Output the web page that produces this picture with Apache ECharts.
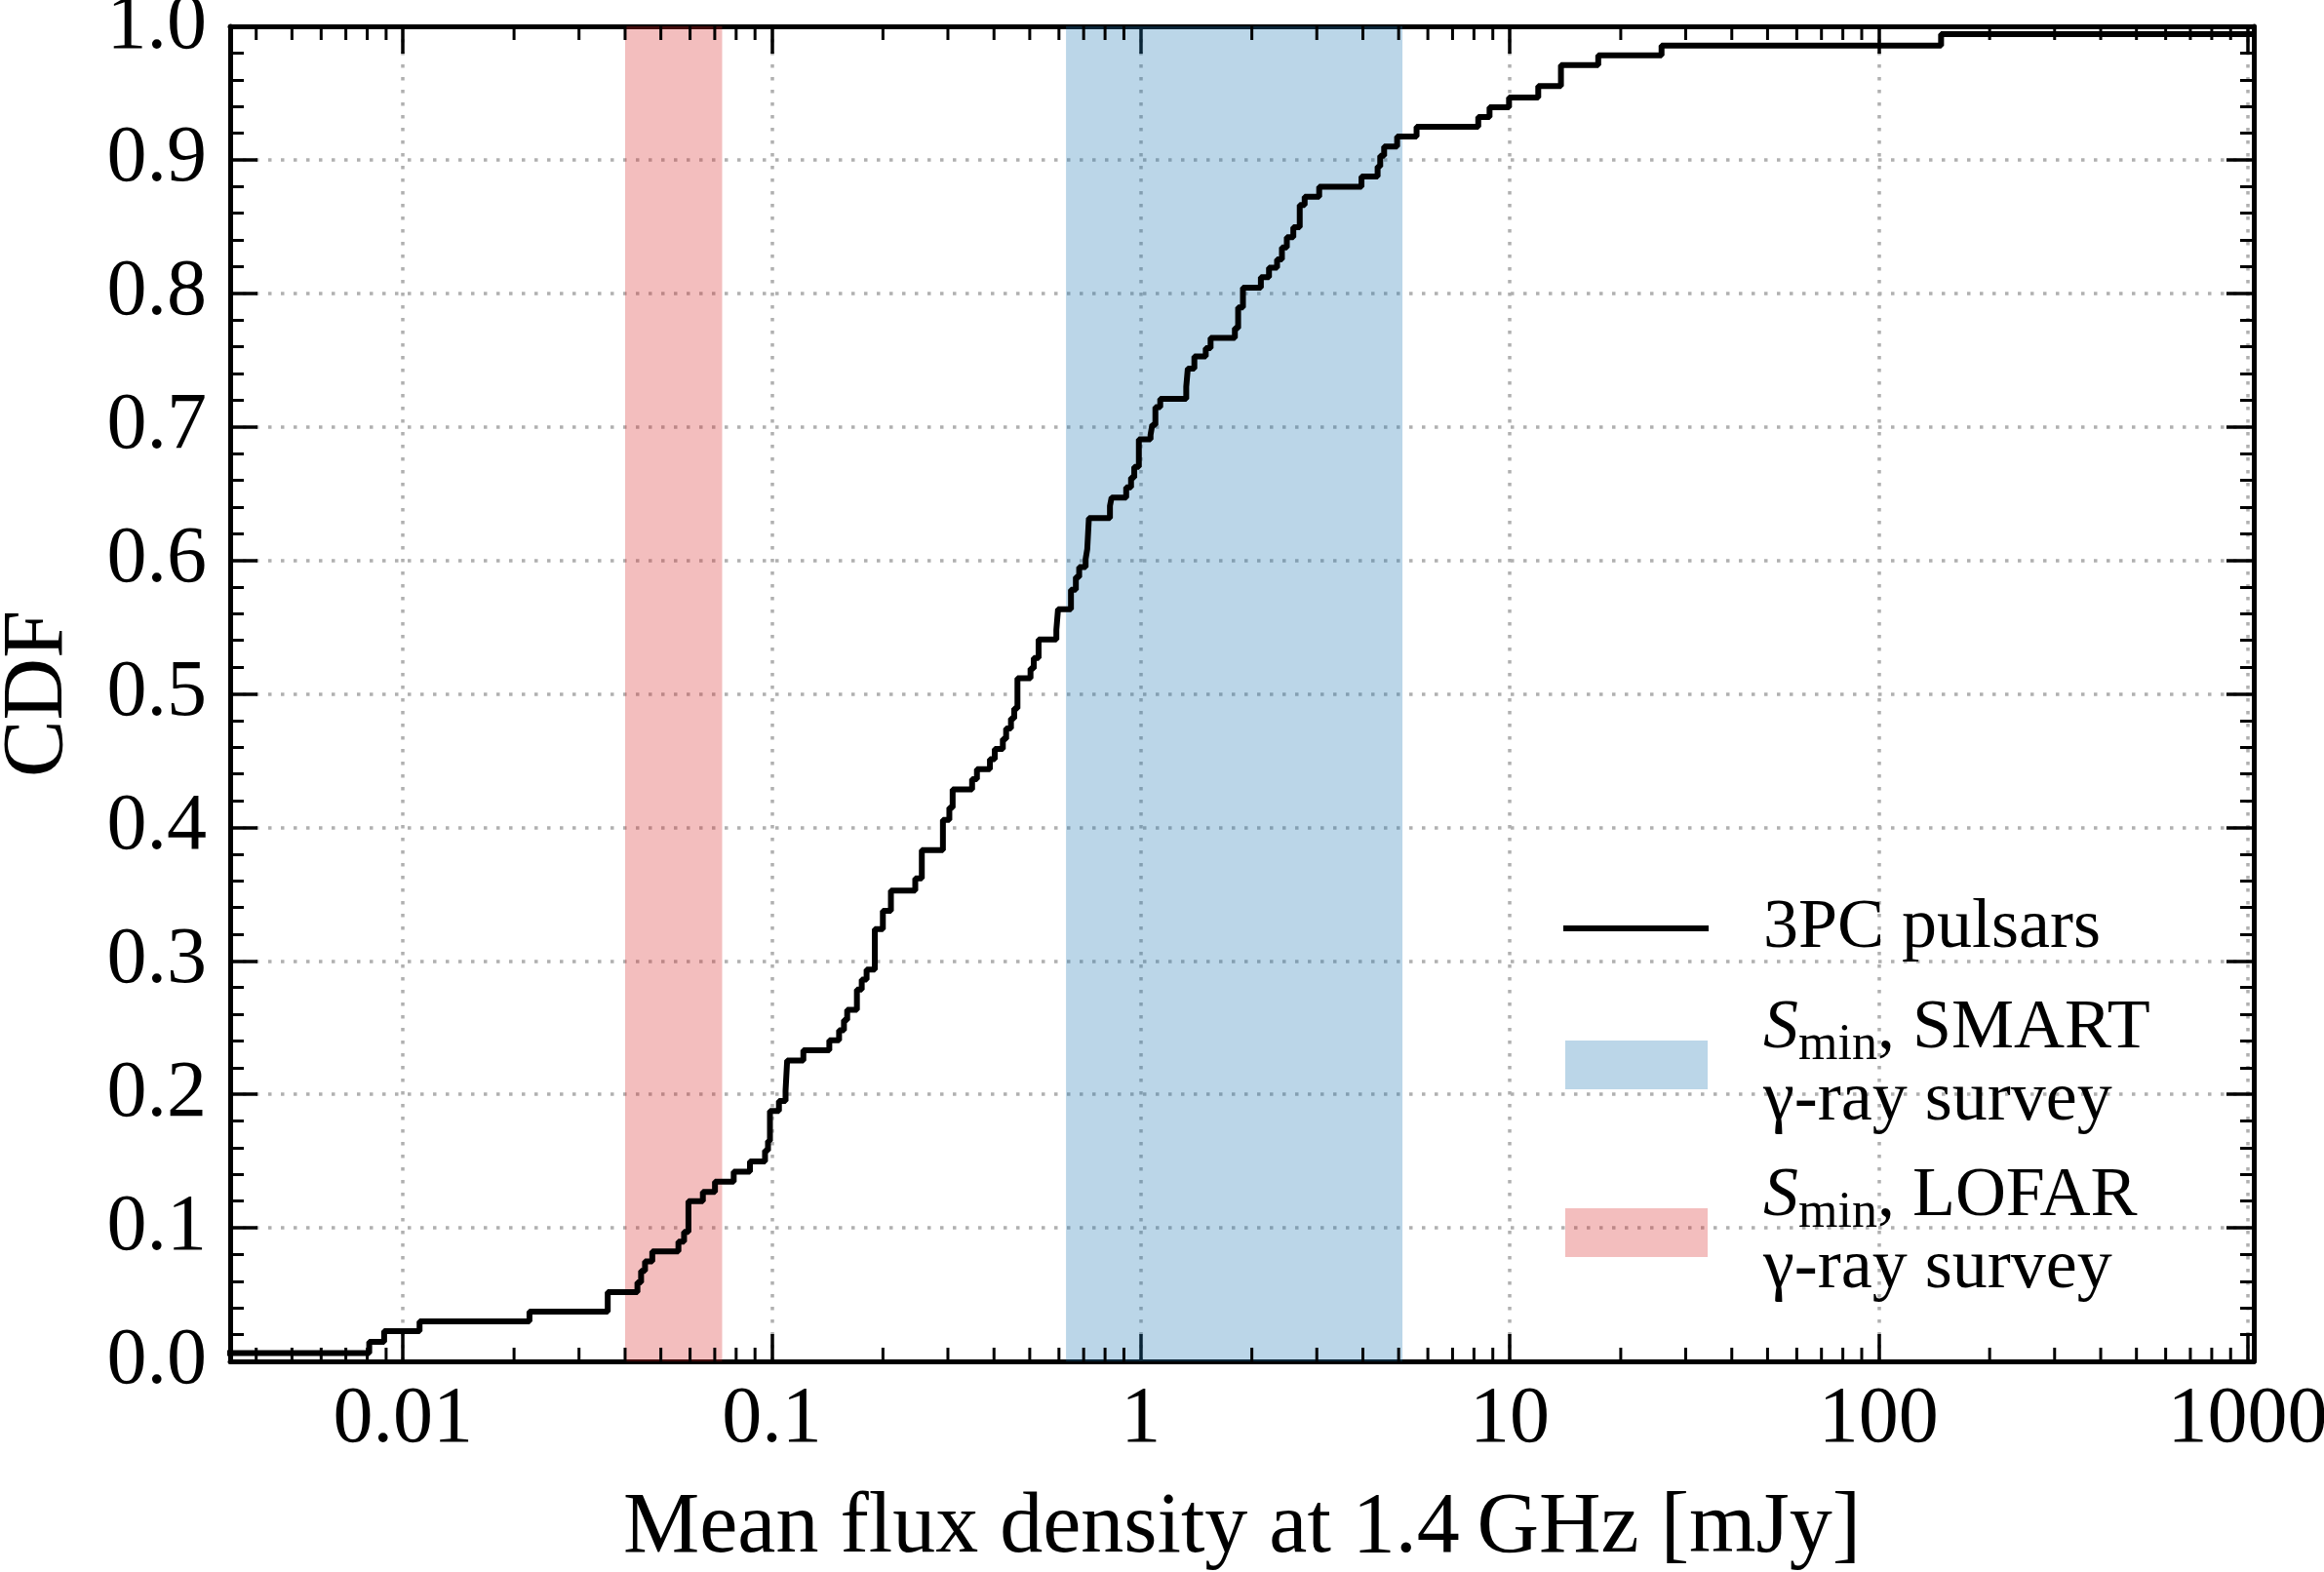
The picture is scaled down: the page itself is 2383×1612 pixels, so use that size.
<!DOCTYPE html>
<html>
<head>
<meta charset="utf-8">
<script src="https://cdn.jsdelivr.net/npm/echarts@6/dist/echarts.min.js"></script>
<style>
  html, body { margin: 0; padding: 0; background: #fff; }
  #chart { width: 2383px; height: 1612px; }
</style>
</head>
<body>
<div id="chart"></div>
<script>
// step corners of the empirical CDF: flux where the curve jumps, level after the jump
const fluxVals = [
  0.0030, 0.00810, 0.00889, 0.01109, 0.02202, 0.03589, 0.0432, 0.0442, 0.0453, 0.0474,
  0.0558, 0.0578, 0.0594, 0.0650, 0.0701, 0.0788, 0.0872, 0.0958, 0.0976, 0.0988,
  0.1045, 0.1089, 0.1100, 0.1217, 0.1431, 0.1521, 0.1568, 0.1600, 0.1700, 0.1752,
  0.1806, 0.1901, 0.1999, 0.2102, 0.2447, 0.2549, 0.2908, 0.3027, 0.3090, 0.3489,
  0.3596, 0.3900, 0.4019, 0.4227, 0.4315, 0.4447, 0.4539, 0.4631, 0.5024, 0.5127,
  0.5284, 0.5904, 0.5966, 0.6467, 0.6668, 0.6807, 0.7087, 0.7160, 0.7233, 0.8249,
  0.8333, 0.9129, 0.9410, 0.9600, 0.988, 1.0627, 1.074, 1.0954, 1.129, 1.328,
  1.341, 1.397, 1.500, 1.546, 1.799, 1.836, 1.892, 2.116, 2.226, 2.341,
  2.413, 2.488, 2.591, 2.697, 2.781, 3.045, 3.965, 4.385, 4.457, 4.567,
  4.953, 5.592, 8.219, 8.818, 9.958, 11.95, 13.77, 17.38, 25.8, 147.7,
  1100
];
const cdfVals = [
  0.0063, 0.0146, 0.0226, 0.0300, 0.0373, 0.0519, 0.0592, 0.0677, 0.0748, 0.0823,
  0.0896, 0.0969, 0.1200, 0.1270, 0.1346, 0.1421, 0.1497, 0.1580, 0.1650, 0.1876,
  0.1950, 0.2027, 0.2254, 0.2330, 0.2405, 0.2480, 0.2557, 0.2633, 0.2784, 0.2860,
  0.2935, 0.3238, 0.3375, 0.3526, 0.3617, 0.3829, 0.4056, 0.4147, 0.4284, 0.4360,
  0.4436, 0.4510, 0.4588, 0.4663, 0.4740, 0.4816, 0.4890, 0.5116, 0.5190, 0.5268,
  0.5407, 0.5480, 0.5634, 0.5780, 0.5875, 0.5950, 0.6010, 0.6085, 0.6316, 0.6408,
  0.6470, 0.6546, 0.6620, 0.6700, 0.6906, 0.6940, 0.7015, 0.7148, 0.7209, 0.7300,
  0.7436, 0.7527, 0.7590, 0.7666, 0.7739, 0.7895, 0.8042, 0.8120, 0.8193, 0.8254,
  0.8344, 0.8420, 0.8495, 0.8662, 0.8723, 0.8798, 0.8876, 0.8950, 0.9030, 0.9100,
  0.9175, 0.9247, 0.9320, 0.9393, 0.9467, 0.9552, 0.9710, 0.9783, 0.9856, 0.9942,
  1.0
];
// survey sensitivity ranges (mJy)
const smartBand = [0.627, 5.12];
const lofarBand = [0.040, 0.0733];

const xTickLabels = ["0.01", "0.1", "1", "10", "100", "1000"];
const yTickLabels = ["0.0", "0.1", "0.2", "0.3", "0.4", "0.5", "0.6", "0.7", "0.8", "0.9", "1.0"];

const xMin = 0.0034, xMax = 1040;

// log minor ticks 2..9 per decade
const minorTicks = [];
for (let e = -3; e <= 2; e++) {
  for (let k = 2; k <= 9; k++) {
    const v = k * Math.pow(10, e);
    if (v > xMin && v < xMax) minorTicks.push(v);
  }
}

const FONT = "Liberation Serif";
const gridLine = { show: true, lineStyle: { color: "#b0b0b0", width: 3.5, type: [3.5, 9.5] } };

const chart = echarts.init(document.getElementById("chart"));

const xBase = {
  type: "log",
  logBase: 10,
  min: xMin,
  max: xMax,
  axisLine: { show: true, onZero: false, lineStyle: { color: "#000", width: 5 } },
  axisTick: { show: true, inside: true, length: 28, lineStyle: { color: "#000", width: 3.5 } },
};
const yBase = {
  type: "value",
  min: 0,
  max: 1,
  interval: 0.1,
  axisLine: { show: true, onZero: false, lineStyle: { color: "#000", width: 5 } },
  axisTick: { show: true, inside: true, length: 28, lineStyle: { color: "#000", width: 3.5 } },
  minorTick: { show: true, splitNumber: 5, length: 14, lineStyle: { color: "#000", width: 3 } },
};

const legendText = {
  color: "#000", fontFamily: FONT, fontSize: 72, lineHeight: 74, padding: [0, 0, 0, 52],
  rich: {
    it: { fontStyle: "italic", fontFamily: FONT, fontSize: 72, color: "#000" },
    sub: { fontFamily: FONT, fontSize: 52, color: "#000", verticalAlign: "bottom", height: 40 },
  },
};

chart.setOption({
  animation: false,
  backgroundColor: "#fff",
  grid: { left: 236, right: 72, top: 27, bottom: 216, containLabel: false, outerBoundsMode: "none" },
  xAxis: [
    Object.assign({}, xBase, {
      position: "bottom",
      splitLine: gridLine,
      axisLabel: {
        color: "#000", fontFamily: FONT, fontSize: 82, margin: 19,
        formatter: function (v) {
          const l = Math.log10(v), e = Math.round(l);
          return Math.abs(l - e) < 1e-6 ? (xTickLabels[e + 2] || "") : "";
        },
      },
      name: "Mean flux density at 1.4\u2009GHz [mJy]",
      nameLocation: "middle",
      nameGap: 128,
      nameTextStyle: { color: "#000", fontFamily: FONT, fontSize: 88 },
    }),
    Object.assign({}, xBase, {
      position: "top",
      splitLine: { show: false },
      axisLabel: { show: false },
    }),
  ],
  yAxis: [
    Object.assign({}, yBase, {
      position: "left",
      splitLine: gridLine,
      axisLabel: {
        color: "#000", fontFamily: FONT, fontSize: 82, margin: 24,
        formatter: function (v) { return yTickLabels[Math.round(v * 10)]; },
      },
      name: "CDF",
      nameLocation: "middle",
      nameGap: 152,
      nameRotate: 90,
      nameTextStyle: { color: "#000", fontFamily: FONT, fontSize: 88 },
    }),
    Object.assign({}, yBase, {
      position: "right",
      splitLine: { show: false },
      axisLabel: { show: false },
    }),
  ],
  legend: [
    {
      data: [{ name: "3PC pulsars", icon: "rect", itemStyle: { color: "#000" } }],
      left: 1603, top: 915, padding: 0, itemWidth: 149, itemHeight: 6, selectedMode: false,
      textStyle: { color: "#000", fontFamily: FONT, fontSize: 72, lineHeight: 74, padding: [0, 0, 0, 51] },
    },
    {
      data: [{ name: "SMART", icon: "rect", itemStyle: { color: "rgba(31,119,180,0.3)" } }],
      left: 1605, top: 1018, padding: 0, itemWidth: 146, itemHeight: 50, selectedMode: false,
      formatter: function () { return "{it|S}{sub|min}, SMART\n\u03b3-ray survey"; },
      textStyle: legendText,
    },
    {
      data: [{ name: "LOFAR", icon: "rect", itemStyle: { color: "rgba(214,39,40,0.3)" } }],
      left: 1605, top: 1190, padding: 0, itemWidth: 146, itemHeight: 50, selectedMode: false,
      formatter: function () { return "{it|S}{sub|min}, LOFAR\n\u03b3-ray survey"; },
      textStyle: legendText,
    },
  ],
  series: [
    {
      name: "SMART",
      type: "line",
      data: [],
      z: 1,
      color: "rgba(31,119,180,0.3)",
      silent: true,
      markArea: {
        silent: true,
        itemStyle: { color: "rgba(31,119,180,0.3)" },
        data: [[{ xAxis: smartBand[0] }, { xAxis: smartBand[1] }]],
      },
    },
    {
      name: "LOFAR",
      type: "line",
      data: [],
      z: 1,
      color: "rgba(214,39,40,0.3)",
      silent: true,
      markArea: {
        silent: true,
        itemStyle: { color: "rgba(214,39,40,0.3)" },
        data: [[{ xAxis: lofarBand[0] }, { xAxis: lofarBand[1] }]],
      },
    },
    {
      name: "3PC pulsars",
      type: "line",
      step: "end",
      data: fluxVals.map((f, i) => [f, cdfVals[i]]),
      showSymbol: false,
      symbol: "none",
      clip: true,
      z: 3,
      color: "#000",
      lineStyle: { color: "#000", width: 6 },
      silent: true,
    },
    {
      type: "custom",
      data: minorTicks.map(v => [v, 0]),
      z: 4,
      silent: true,
      renderItem: function (params, api) {
        const x = api.value(0);
        const b = api.coord([x, 0]);
        const t = api.coord([x, 1]);
        const st = { stroke: "#000", lineWidth: 3 };
        return {
          type: "group",
          children: [
            { type: "line", shape: { x1: b[0], y1: b[1], x2: b[0], y2: b[1] - 14 }, style: st },
            { type: "line", shape: { x1: t[0], y1: t[1], x2: t[0], y2: t[1] + 14 }, style: st },
          ],
        };
      },
    },
  ],
});
</script>
</body>
</html>
